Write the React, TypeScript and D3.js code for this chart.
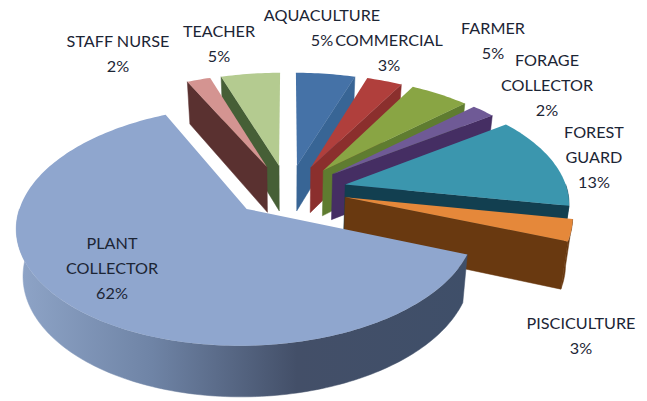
import React from "react";
import * as d3 from "d3";

// Occupation shares, clockwise from twelve o'clock.
const categories = ["AQUACULTURE", "COMMERCIAL", "FARMER", "FORAGE COLLECTOR", "FOREST GUARD", "PISCICULTURE", "PLANT COLLECTOR", "STAFF NURSE", "TEACHER"];
const shares = [5, 3, 5, 2, 13, 3, 62, 2, 5];

const topColors = ["#4572a7", "#b03f3c", "#89a544", "#6f5a96", "#3b96ae", "#e5883a", "#8fa6ce", "#d49491", "#b4cb90"];
const wallColors = ["#386595", "#8b2f2d", "#5f7c30", "#452e63", "#123f50", "#693910", "#44526b", "#5a3130", "#465f36"];

// Label blocks: wrapped lines and the centre of each block's first row.
const labelLines = [["AQUACULTURE"], ["COMMERCIAL"], ["FARMER"], ["FORAGE", "COLLECTOR"], ["FOREST", "GUARD"], ["PISCICULTURE"], ["PLANT", "COLLECTOR"], ["STAFF NURSE"], ["TEACHER"]];
const labelCentres: [number, number][] = [[322, 14], [389, 39], [493, 27], [547, 59], [594, 131], [581, 322], [112, 242], [118, 40], [219, 30]];

const WIDTH = 647;
const HEIGHT = 401;
const RADIUS = 222;
const EXPLODE = 59;
const DEPTH_EXPLODE = 0.85;
const THICKNESS = 46;
const CONVERGE = 0.025;
const CX = 288;
const CY = 190;
const TILT = 0.505;
const VIEW = 1600;
const LINE_H = 25;

type P = [number, number];

// Perspective projection of a ground-plane point, dropped by z below the top face.
// Verticals converge slightly toward the pie's axis as they go down.
const project = (x: number, y: number, z: number): P => {
  const f = VIEW / (VIEW + y);
  return [CX + x * f * (1 - (CONVERGE * z) / THICKNESS), CY - y * TILT * f + z * Math.pow(f, 0.6)];
};

const pie = d3.pie<number>().sort(null).value((d) => d);
const outline = d3.line<P>();

const arcSamples = (a0: number, a1: number) => {
  const n = Math.max(2, Math.ceil((a1 - a0) / 0.02));
  return d3.range(n + 1).map((i) => a0 + ((a1 - a0) * i) / n);
};

export default function App() {
  const arcs = pie(shares).map((a, i) => {
    const mid = (a.startAngle + a.endAngle) / 2;
    return { ...a, i, mid, ex: EXPLODE * Math.sin(mid), ey: EXPLODE * DEPTH_EXPLODE * Math.cos(mid) };
  });
  // Far slices are painted first so nearer ones overlap them.
  const ordered = [...arcs].sort((a, b) => d3.descending(Math.cos(a.mid), Math.cos(b.mid)));

  return (
    <svg width={WIDTH} height={HEIGHT} style={{ position: "absolute", left: 0, top: 0, background: "#fff" }}>
      <defs>
        <linearGradient id="plantWall" gradientUnits="userSpaceOnUse" x1={15} x2={470} y1={0} y2={0}>
          <stop offset="0" stopColor="#8fa5c8" />
          <stop offset="0.3" stopColor="#6f84a6" />
          <stop offset="0.62" stopColor="#434f68" />
          <stop offset="1" stopColor="#3f4f69" />
        </linearGradient>
      </defs>
      {ordered.map((s) => {
        const rim = (t: number, z: number) => project(s.ex + RADIUS * Math.sin(t), s.ey + RADIUS * Math.cos(t), z);
        const hub = (z: number) => project(s.ex, s.ey, z);
        const wallFill = s.i === 6 ? "url(#plantWall)" : wallColors[s.i];
        const radial = (t: number) => [hub(0), rim(t, 0), rim(t, THICKNESS), hub(THICKNESS)];
        const from = Math.max(s.startAngle, Math.PI / 2);
        const to = Math.min(s.endAngle, (3 * Math.PI) / 2);
        const curved =
          from < to
            ? [...arcSamples(from, to).map((t) => rim(t, 0)), ...arcSamples(from, to).reverse().map((t) => rim(t, THICKNESS))]
            : null;
        const top = [hub(0), ...arcSamples(s.startAngle, s.endAngle).map((t) => rim(t, 0))];
        return (
          <g key={s.i}>
            {Math.sin(s.startAngle) < -1e-6 && (
              <path d={outline(radial(s.startAngle)) + "Z"} fill={wallFill} stroke={wallFill} strokeWidth={0.5} />
            )}
            {Math.sin(s.endAngle) > 1e-6 && (
              <path d={outline(radial(s.endAngle)) + "Z"} fill={wallFill} stroke={wallFill} strokeWidth={0.5} />
            )}
            {curved && <path d={outline(curved) + "Z"} fill={wallFill} stroke={wallFill} strokeWidth={0.5} />}
            <path d={outline(top) + "Z"} fill={topColors[s.i]} />
          </g>
        );
      })}
      <g fontFamily="Lato, 'Noto Sans', sans-serif" fontSize={16.2} fill="#1c2535" textAnchor="middle" dominantBaseline="central">
        {categories.map((c, i) => {
          const lines = labelLines[i];
          const [lx, ly] = labelCentres[i];
          return (
            <text key={c} x={lx} y={ly}>
              {lines.map((l, k) => (
                <tspan key={l} x={lx} y={ly + k * LINE_H}>{l}</tspan>
              ))}
              <tspan x={lx} y={ly + lines.length * LINE_H}>{shares[i]}%</tspan>
            </text>
          );
        })}
      </g>
    </svg>
  );
}
